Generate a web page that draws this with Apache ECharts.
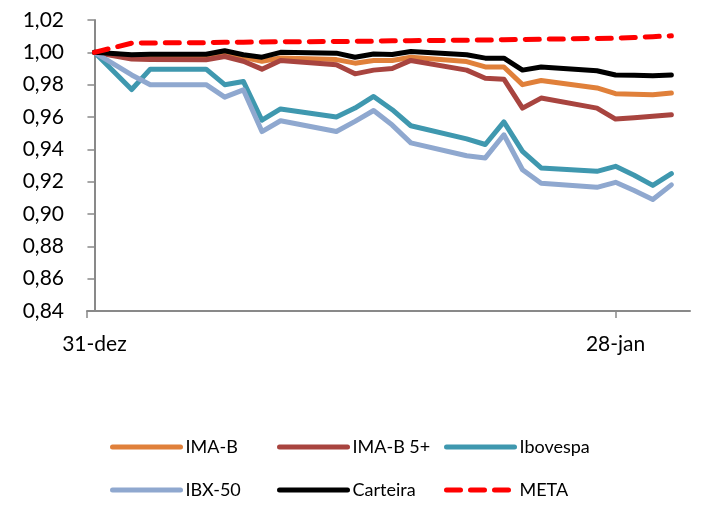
<!DOCTYPE html>
<html>
<head>
<meta charset="utf-8">
<script src="https://cdn.jsdelivr.net/npm/echarts@6/dist/echarts.min.js"></script>
<style>
html, body { margin: 0; padding: 0; background: #fff; }
#chart { width: 712px; height: 507px; }
</style>
</head>
<body>
<div id="chart"></div>
<script>
// dias corridos desde 31-dez (dias úteis de janeiro)
var dias = [0, 2, 3, 6, 7, 8, 9, 10, 13, 14, 15, 16, 17, 20, 21, 22, 23, 24, 27, 28, 29, 30, 31];
var rotulosX = { 0: "31-dez", 28: "28-jan" };

var imaB = [1.000, 0.998, 0.998, 0.998, 1.000, 0.997, 0.9945, 0.9965, 0.9955, 0.9933, 0.995, 0.995, 0.997, 0.9943, 0.991, 0.9909, 0.980, 0.9826, 0.978, 0.9744, 0.974, 0.9737, 0.9748];
var imaB5 = [1.000, 0.9958, 0.9956, 0.9954, 0.9974, 0.9945, 0.9896, 0.995, 0.9923, 0.9867, 0.989, 0.990, 0.995, 0.989, 0.984, 0.9834, 0.9655, 0.9717, 0.9655, 0.9587, 0.9595, 0.9605, 0.9614];
var ibovespa = [1.000, 0.977, 0.9896, 0.9896, 0.980, 0.982, 0.958, 0.965, 0.960, 0.9655, 0.9727, 0.9645, 0.9546, 0.9465, 0.943, 0.957, 0.9387, 0.9285, 0.9264, 0.9295, 0.924, 0.9177, 0.925];
var ibx50 = [1.000, 0.986, 0.980, 0.980, 0.9723, 0.9768, 0.951, 0.9577, 0.951, 0.9573, 0.964, 0.955, 0.944, 0.936, 0.9347, 0.949, 0.9274, 0.919, 0.9165, 0.9196, 0.9145, 0.909, 0.918];
var carteira = [1.000, 0.9985, 0.9988, 0.9988, 1.001, 0.9985, 0.997, 1.000, 0.9995, 0.997, 0.999, 0.9987, 1.0005, 0.9985, 0.9964, 0.9964, 0.989, 0.9909, 0.9886, 0.986, 0.9858, 0.9855, 0.986];
var meta = [1.000, 1.0057, 1.0058, 1.006, 1.0062, 1.0063, 1.0064, 1.0065, 1.0067, 1.0068, 1.0069, 1.0071, 1.0072, 1.0075, 1.0076, 1.0078, 1.0079, 1.0081, 1.0086, 1.0088, 1.0092, 1.0097, 1.0102];

var ticksY = { min: 0.84, max: 1.02, interval: 0.02 };

function pares(valores) {
	var out = [];
	for (var i = 0; i < dias.length; i++) {
		out.push([dias[i], valores[i]]);
	}
	return out;
}

function serie(nome, valores, cor, tipo) {
	return {
		name: nome,
		type: 'line',
		symbol: 'none',
		data: pares(valores),
		lineStyle: {
			color: cor,
			width: 5,
			type: tipo || 'solid',
			cap: 'round',
			join: 'round'
		},
		itemStyle: { color: cor }
	};
}

var fonte = 'Lato, "Open Sans", sans-serif';

// uma legenda por item, em grade 3x2
var colunas = [110, 277, 444];
var linhas = [438, 481];
var nomesLegenda = [['IMA-B', 'IMA-B 5+', 'Ibovespa'], ['IBX-50', 'Carteira', 'META']];
var legendas = [];
for (var l = 0; l < linhas.length; l++) {
	for (var c = 0; c < colunas.length; c++) {
		legendas.push({
			left: colunas[c],
			top: linhas[l],
			padding: 0,
			itemWidth: 68,
			itemHeight: 14,
			itemTextGap: 9,
			itemStyle: { opacity: 0 }, // sem o círculo do símbolo
			lineStyle: { width: 5, cap: 'round' },
			textStyle: { fontFamily: fonte, fontSize: 18, color: '#000' },
			data: [nomesLegenda[l][c]]
		});
	}
}

var myEchart = echarts.init(document.getElementById('chart'));

var option = {
	backgroundColor: '#FFFFFF',
	animation: false,
	grid: { left: 87, right: 22, top: 20, bottom: 196 },
	legend: legendas,
	xAxis: {
		type: 'value',
		min: -0.4,
		max: 32,
		splitLine: { show: false },
		axisLine: { lineStyle: { color: '#898989', width: 2 } },
		axisTick: {
			length: 7,
			customValues: [-0.4, 28],
			lineStyle: { color: '#898989', width: 1.5 }
		},
		axisLabel: {
			customValues: [0, 28],
			margin: 23,
			fontFamily: fonte,
			fontSize: 21,
			color: '#000',
			formatter: function(v) {
				return rotulosX[Math.round(v)] || '';
			}
		}
	},
	yAxis: {
		type: 'value',
		min: ticksY.min,
		max: ticksY.max,
		interval: ticksY.interval,
		splitLine: { show: false },
		axisLine: { show: true, lineStyle: { color: '#898989', width: 2 } },
		axisTick: { show: true, length: 7, lineStyle: { color: '#898989', width: 1.5 } },
		axisLabel: {
			margin: 23,
			fontFamily: fonte,
			fontSize: 21,
			color: '#000',
			formatter: function(v) {
				return v.toFixed(2).replace('.', ',');
			}
		}
	},
	series: [
		serie('IMA-B', imaB, '#E0803A'),
		serie('IMA-B 5+', imaB5, '#A8443F'),
		serie('Ibovespa', ibovespa, '#3F98AF'),
		serie('IBX-50', ibx50, '#8FA8CF'),
		serie('Carteira', carteira, '#000000'),
		serie('META', meta, '#FF0000', [14, 10])
	]
};

myEchart.setOption(option);
</script>
</body>
</html>
